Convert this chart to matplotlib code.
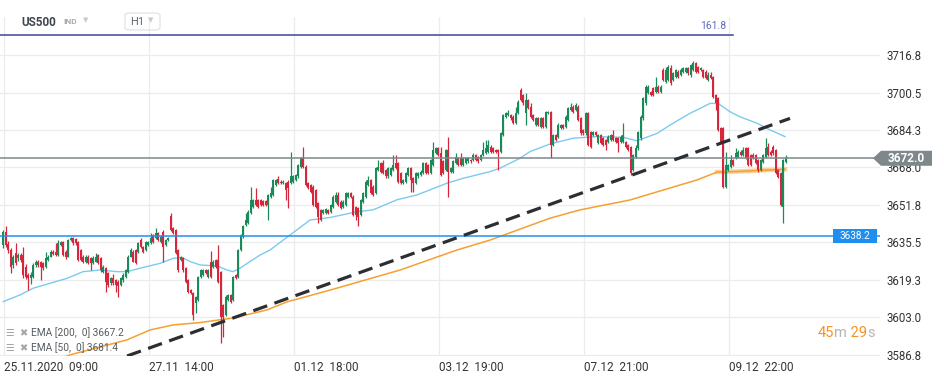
import matplotlib
matplotlib.use('Agg')
import matplotlib.pyplot as plt
import matplotlib.transforms as mtransforms
from matplotlib.patches import Polygon, Rectangle, FancyBboxPatch
import numpy as np

plt.rcParams['font.family'] = ['Roboto', 'DejaVu Sans']

# US500 H1 candles, 25.11.2020 09:00 -> 09.12.2020
opens = [
    3634.4, 3640.2, 3635, 3632.2, 3625.7, 3630.8, 3628.6, 3630, 3630, 3625,
    3621.4, 3619.9, 3620.6, 3625.7, 3627.2, 3627.2, 3626.4, 3625, 3627.9, 3629.3,
    3631.5, 3631.5, 3630, 3634.4, 3635.8, 3631.5, 3629.3, 3636.5, 3637.2, 3636.8,
    3635.8, 3632.2, 3629.3, 3627.2, 3629.3, 3628.6, 3626.4, 3627.2, 3630, 3628.6,
    3622.8, 3624.3, 3622, 3617.7, 3619.9, 3619.2, 3618.5, 3617, 3619.2, 3620.6,
    3622.8, 3629.3, 3631.5, 3632.2, 3631.5, 3636.5, 3633.6, 3632.2, 3634.4, 3635.1,
    3638.7, 3637.3, 3639.4, 3635.8, 3640.2, 3634.4, 3636.5, 3647, 3641.6, 3640.9,
    3632.2, 3627.9, 3628.6, 3624.3, 3619.2, 3614.9, 3613.4, 3609.1, 3610.5, 3620.6,
    3621.4, 3623.5, 3620.6, 3627.2, 3625, 3627.9, 3627.9, 3622.8, 3608.3, 3604,
    3610.5, 3612.7, 3610.5, 3621.4, 3620.6,
    3632.2, 3638, 3643.1, 3643.8, 3648.2, 3651, 3653.9, 3653.9, 3653.9, 3653.6,
    3653.6, 3651.8, 3655.4, 3656.1, 3660.4, 3662.9, 3661.9, 3661.2, 3661.2, 3661.9,
    3661.2, 3661.9, 3662.6, 3664.1, 3668.4, 3672, 3668.4, 3661.2, 3660.4, 3659.7,
    3658.3, 3652.5, 3649.6, 3648.2, 3648.4, 3649.6, 3648.9, 3651, 3653.2, 3656.1,
    3653.2, 3651, 3651.8, 3655.4, 3656.8, 3655.4, 3651, 3650.3, 3647.4, 3653.2,
    3655.4, 3660.4, 3662.6, 3659.7, 3656.8, 3666.9, 3669.8, 3669.8, 3666.9, 3664.1,
    3664.8, 3666.9, 3669.8, 3669.8, 3665.5, 3661.2, 3661.9, 3664.8, 3667.7, 3663.3,
    3661.2, 3664.1, 3664.8, 3665.5, 3669.8, 3669.1, 3665.5, 3669.1, 3674.2, 3676.3,
    3674.2, 3670.6, 3666.9, 3675.6, 3666.2, 3666.2, 3669.8, 3672, 3672, 3669.1,
    3669.8, 3670.6, 3671.3, 3671.3, 3673.5, 3672.7,
    3671.3, 3673.4, 3674.2, 3674.9, 3677.1, 3676.3, 3675.6, 3675.6, 3674.9, 3682.1,
    3690.1, 3690.8, 3690.8, 3690.1, 3687.2, 3691.5, 3701.6, 3699.5, 3691.5, 3697.3,
    3694.4, 3690.8, 3686.4, 3689.3, 3685.7, 3689.3, 3685.7, 3691.5, 3692.2, 3677.8,
    3682.1, 3681.4, 3685, 3686.4, 3685.7, 3688.6, 3693, 3694.4, 3693, 3694.4,
    3689.3, 3684.3, 3682.8, 3691.5, 3683.5, 3682.1, 3683.5, 3678.5, 3682.1, 3680.7,
    3679.9, 3679.2, 3679.9, 3682.1, 3680.7, 3680.7, 3679.2, 3679.2, 3679.2, 3677.8,
    3677, 3666.9, 3672.7, 3676.3, 3680.6, 3689.3, 3695.8, 3700.2, 3700.9, 3702.3,
    3700.9, 3703.1, 3700.9, 3710.3, 3705.2, 3706, 3711, 3706, 3707.4, 3709.6,
    3708.1, 3709.6, 3709.6, 3711, 3708.1, 3710.3, 3713.2, 3711.7, 3710.3, 3710.3,
    3709.6, 3706, 3708.1, 3707.4, 3699.4, 3698, 3685, 3685, 3659.7, 3666.9,
    3668.4, 3671.2, 3672, 3672.7, 3674.9, 3673.4, 3676.3, 3676.3, 3673.4, 3673.4,
    3673.4, 3671.2, 3666.9, 3670.5, 3672.7, 3677, 3674.9, 3677, 3675.6, 3666.9,
    3665.5, 3651, 3670.5,
]
highs = [
    3641, 3642.6, 3636, 3633, 3630, 3635.1, 3631, 3631, 3633.6, 3626,
    3622, 3622.5, 3626.5, 3627.9, 3628, 3627.5, 3627, 3631.5, 3630, 3632,
    3632, 3635.1, 3636.5, 3636.3, 3636.3, 3632, 3637, 3637.8, 3637.8, 3637.3,
    3636.3, 3632.8, 3630, 3630, 3630, 3629, 3629.5, 3630.8, 3630.5, 3629,
    3625.5, 3625, 3622.5, 3620.5, 3621.8, 3619.8, 3619, 3620.5, 3622, 3624,
    3630, 3632.9, 3632, 3632.8, 3635.6, 3637.3, 3634, 3636.3, 3636.3, 3639.4,
    3639.2, 3641.6, 3640, 3638.5, 3640.8, 3637, 3637.7, 3648.4, 3642, 3641.4,
    3632.7, 3629.8, 3629, 3624.8, 3619.7, 3615.4, 3613.9, 3612.4, 3621.1, 3624,
    3624, 3624, 3624, 3631.9, 3627.7, 3628.4, 3634.4, 3623.3, 3608.8, 3612.5,
    3613.2, 3613.2, 3621.1, 3621.9, 3632.7,
    3639.2, 3642.9, 3648.2, 3649.4, 3659.7, 3654.4, 3659, 3654.4, 3654.4, 3654.1,
    3654.1, 3656.6, 3659.7, 3663.1, 3663.1, 3664.1, 3662.4, 3662.4, 3661.7, 3662.4,
    3674.9, 3664.6, 3665.3, 3669.6, 3672.5, 3677.1, 3668.9, 3661.7, 3660.9, 3660.2,
    3658.8, 3653, 3650.1, 3650.1, 3650.4, 3650.1, 3652.3, 3655.9, 3657.5, 3657.5,
    3653.7, 3653.7, 3657.3, 3657.3, 3657.3, 3655.9, 3651.5, 3650.8, 3654.4, 3657.3,
    3662.4, 3664.1, 3663.1, 3660.2, 3668.2, 3671.3, 3670.3, 3671.3, 3667.4, 3668.2,
    3668.2, 3673.5, 3673.5, 3670.3, 3666, 3663.1, 3666, 3668.2, 3668.2, 3663.8,
    3666, 3666, 3666.7, 3670.3, 3670.3, 3669.6, 3671.8, 3679.2, 3676.8, 3676.8,
    3677.1, 3671.1, 3676.1, 3681.4, 3668.2, 3671.1, 3674.2, 3672.5, 3674.2, 3672.5,
    3672.5, 3672.5, 3671.8, 3674.2, 3674, 3673.2,
    3673.9, 3679.2, 3679.9, 3679.9, 3677.8, 3676.8, 3676.1, 3676.1, 3683.3, 3691.3,
    3692, 3693, 3691.3, 3690.6, 3694.4, 3697.1, 3702.3, 3700, 3700.2, 3697.8,
    3695.8, 3691.3, 3689.8, 3689.8, 3689.8, 3689.8, 3692.7, 3692.7, 3692.7, 3682.6,
    3682.6, 3687.2, 3686.9, 3686.9, 3690.6, 3694.2, 3695.8, 3694.9, 3695.8, 3694.9,
    3689.8, 3684.8, 3692.2, 3692, 3684, 3684, 3684, 3682.6, 3682.6, 3681.2,
    3680.4, 3681.9, 3682.6, 3684.3, 3681.2, 3681.2, 3682.1, 3687.2, 3679.7, 3678.3,
    3677.5, 3673.9, 3677.8, 3684, 3690.6, 3698.5, 3703.6, 3703.6, 3701.4, 3703.1,
    3707.4, 3703.6, 3703.6, 3711, 3711.7, 3712.5, 3712.5, 3709.3, 3710.8, 3710.1,
    3711, 3711.5, 3711.5, 3711.5, 3713, 3714, 3713.7, 3712.2, 3711.5, 3710.8,
    3710.1, 3709.6, 3709.6, 3707.9, 3699.9, 3698.5, 3685.5, 3685.5, 3674.9, 3669.6,
    3673.4, 3671.7, 3676.3, 3675.4, 3675.4, 3677, 3676.8, 3676.8, 3673.9, 3674.1,
    3673.9, 3671.7, 3671.7, 3673.9, 3680.6, 3678.5, 3675.4, 3677.8, 3676.1, 3667.4,
    3666, 3671.7, 3673.4,
]
lows = [
    3633, 3633.5, 3631, 3622.2, 3624.5, 3625.5, 3627.5, 3627, 3620, 3619.5,
    3614.9, 3617.5, 3620, 3625, 3625, 3619.2, 3623.5, 3624.5, 3627.5, 3629,
    3630, 3629.5, 3629.5, 3634, 3629.5, 3628.5, 3629, 3636, 3634.5, 3634.5,
    3627.5, 3627.3, 3626.5, 3626.5, 3626, 3623.5, 3626, 3626.8, 3626, 3622.5,
    3622, 3614.1, 3616, 3617, 3617, 3614.1, 3612, 3616.5, 3618.5, 3620,
    3622.3, 3629, 3626.8, 3626, 3631, 3633, 3631, 3631.8, 3634, 3634.8,
    3635.3, 3637, 3636, 3635.3, 3627.2, 3634, 3636, 3640.4, 3639, 3630.3,
    3622.8, 3627.4, 3622.8, 3618, 3613.6, 3612.9, 3601.8, 3605, 3610, 3620.1,
    3621, 3621.6, 3620.1, 3620.1, 3624.5, 3624.5, 3618, 3591.8, 3594.5, 3603.5,
    3610, 3609.3, 3610, 3619.4, 3620.1,
    3631.7, 3637.5, 3642.6, 3643.3, 3647.7, 3650.5, 3651.3, 3650.5, 3651.3, 3651.3,
    3651.3, 3645.3, 3654.9, 3655.6, 3659.9, 3660.7, 3660.7, 3660.7, 3653.9, 3650.3,
    3660.7, 3661.4, 3662.1, 3663.6, 3667.9, 3667.9, 3659.9, 3658.5, 3657, 3651.3,
    3650.5, 3643.8, 3644.8, 3647.7, 3647.9, 3647.7, 3648.4, 3650.5, 3652.7, 3651.3,
    3649.8, 3650.5, 3651.3, 3654.9, 3654.9, 3646.9, 3645.3, 3642.4, 3646.9, 3652.7,
    3654.9, 3659.9, 3656.3, 3655.6, 3656.3, 3666.4, 3665.7, 3665, 3663.6, 3663.6,
    3664.3, 3666.4, 3667.2, 3661.4, 3660.7, 3660.7, 3661.4, 3664.3, 3657.5, 3657.5,
    3660.7, 3663.6, 3664.3, 3665, 3665, 3665, 3665, 3668.6, 3673.7, 3673,
    3664.3, 3665, 3666.4, 3655.4, 3665.7, 3665.7, 3669.3, 3668.6, 3668.6, 3668.6,
    3669.3, 3670.1, 3670.1, 3670.8, 3670.8, 3670.1,
    3670.8, 3672.9, 3673.7, 3674.4, 3674.4, 3674.4, 3674.4, 3666.9, 3674.4, 3681.6,
    3689.6, 3690.3, 3688.8, 3686.7, 3686.7, 3691, 3696.8, 3695.3, 3686.4, 3693.2,
    3689.6, 3688.1, 3685.9, 3685.9, 3685.2, 3685.2, 3685.2, 3691, 3672, 3677.3,
    3679.4, 3680.9, 3684.5, 3684.5, 3685.2, 3688.1, 3692.5, 3691.7, 3692.5, 3688.1,
    3682.3, 3682.3, 3682.3, 3677.3, 3676.6, 3681.6, 3681.6, 3678, 3678, 3677.3,
    3675.6, 3678.7, 3679.4, 3679.4, 3678.7, 3674.9, 3678.7, 3678.7, 3676.6, 3675.1,
    3664.8, 3666.4, 3672.2, 3675.8, 3680.1, 3688.8, 3695.3, 3699.7, 3698.9, 3698.9,
    3700.4, 3700.4, 3700.4, 3705.5, 3704.7, 3705.5, 3704, 3705.5, 3706.9, 3706.9,
    3707.6, 3709.1, 3709.1, 3708.3, 3707.4, 3709.8, 3709.1, 3709.1, 3709.8, 3706.9,
    3706.2, 3705.5, 3706.2, 3698.2, 3692.9, 3683.8, 3678.7, 3659.2, 3659.2, 3666.4,
    3667.9, 3668.6, 3671.5, 3672.2, 3672.9, 3672.9, 3671.5, 3668.6, 3668.6, 3671.5,
    3669.3, 3666.2, 3666.4, 3670, 3672.2, 3672.9, 3672.9, 3673.6, 3665, 3663.5,
    3651.2, 3643.8, 3670,
]
closes = [
    3640.2, 3634.4, 3632.2, 3625, 3629.3, 3626.4, 3630, 3627.9, 3621.4, 3620.6,
    3619.9, 3621.4, 3625.7, 3627.2, 3625.7, 3625, 3624.3, 3628.6, 3629.3, 3631.5,
    3630.5, 3630, 3635.1, 3635.8, 3630, 3629.3, 3636.5, 3637.2, 3635.1, 3635.1,
    3627.9, 3627.9, 3627.2, 3629.3, 3626.4, 3626.4, 3628.6, 3629.3, 3626.4, 3623.5,
    3625, 3618.5, 3617, 3619.9, 3617.7, 3617, 3616.6, 3619.9, 3621.4, 3623.5,
    3629.3, 3632.2, 3627.2, 3626.4, 3635.1, 3633.6, 3631.5, 3635.8, 3635.8, 3637.3,
    3635.8, 3639.4, 3636.5, 3638, 3633.6, 3636.5, 3637.2, 3640.9, 3639.4, 3630.8,
    3623.5, 3629.3, 3623.5, 3618.5, 3614.1, 3613.4, 3604, 3611.9, 3620.6, 3623.5,
    3623.5, 3622.1, 3623.5, 3620.6, 3627.2, 3625, 3618.5, 3603.3, 3603.3, 3612,
    3612.7, 3609.8, 3620.6, 3619.9, 3632.2,
    3638.7, 3642.4, 3645.3, 3648.9, 3653.9, 3653.9, 3651.8, 3651, 3651.8, 3651.8,
    3651.8, 3656.1, 3656.8, 3662.6, 3662.6, 3661.2, 3661.2, 3661.9, 3658.3, 3659,
    3664.1, 3664.1, 3664.8, 3669.1, 3672, 3668.4, 3660.4, 3659, 3657.5, 3651.8,
    3651, 3646.7, 3645.3, 3649.6, 3649.9, 3648.2, 3651.8, 3655.4, 3656.1, 3651.8,
    3650.3, 3653.2, 3656.8, 3656.8, 3655.4, 3647.4, 3647.4, 3646.7, 3653.9, 3656.8,
    3661.9, 3662.6, 3656.8, 3656.1, 3667.7, 3668.4, 3666.2, 3665.5, 3664.1, 3667.7,
    3667.7, 3669.1, 3667.7, 3661.9, 3661.2, 3662.6, 3665.5, 3667.7, 3662.6, 3661.2,
    3665.5, 3665.5, 3666.2, 3669.8, 3665.5, 3665.5, 3671.3, 3675.6, 3676.3, 3673.5,
    3664.8, 3665.5, 3675.6, 3666.2, 3667.7, 3670.6, 3672.7, 3669.1, 3669.1, 3672,
    3672, 3672, 3670.6, 3673.5, 3671.3, 3670.6,
    3673.4, 3675.6, 3676.3, 3677.8, 3674.9, 3674.9, 3674.9, 3674.9, 3682.8, 3690.8,
    3691.5, 3691.5, 3689.3, 3687.2, 3691.5, 3696.6, 3697.3, 3695.8, 3697.3, 3693.7,
    3690.1, 3688.6, 3689.3, 3686.4, 3689.3, 3685.7, 3692.2, 3692.2, 3677.8, 3682.1,
    3679.9, 3686.4, 3686.4, 3685, 3690.1, 3693.7, 3694.4, 3692.2, 3695.1, 3688.6,
    3682.8, 3682.8, 3691.5, 3677.8, 3677.1, 3683.5, 3682.1, 3682.1, 3678.5, 3677.8,
    3677.8, 3681.4, 3682.1, 3679.9, 3679.2, 3678.5, 3681.4, 3682.1, 3677.1, 3675.6,
    3665.5, 3673.4, 3676.3, 3683.5, 3690.1, 3698, 3703.1, 3703.1, 3699.4, 3699.4,
    3703.1, 3700.9, 3703.1, 3706, 3710.3, 3711.7, 3704.5, 3708.8, 3710.3, 3707.4,
    3710.3, 3711, 3711, 3708.8, 3712.5, 3713.2, 3709.6, 3709.6, 3711, 3707.4,
    3706.7, 3708.1, 3706.7, 3698.7, 3695.8, 3684.3, 3679.2, 3659.7, 3669.1, 3669.1,
    3671.2, 3669.1, 3674.1, 3674.9, 3673.4, 3675.6, 3672, 3669.1, 3669.1, 3672,
    3669.8, 3666.9, 3671.2, 3673.4, 3676.3, 3673.4, 3673.4, 3674.1, 3665.5, 3664,
    3651.7, 3671.2, 3672,
]

# EMA lines, sampled along the chart (candle index, value)
ema50_idx = [0, 6.7, 11.9, 25.5, 31.9, 38.7, 45.5, 49.5, 54.7, 62.7, 68, 71.5, 74.7,
             78.7, 85.5, 89.5, 91.9, 94.7, 98.7, 102.7, 106.7, 114.7, 122.7, 130.7,
             141.5, 147.9, 157.5, 165.5, 177.5, 183.9, 194.7, 198.7, 206.7, 210.7,
             218.7, 227.9, 237.5, 247.9, 253.5, 261.5, 267.9, 274.7, 282.7, 285.9,
             290.7, 294.7, 301.5, 306.7, 312.7]
ema50_val = [3609.8, 3612.7, 3615.6, 3619.9, 3622.8, 3623.5, 3622.8, 3622.8, 3624.3,
             3626.4, 3628.6, 3629.0, 3627.2, 3625.7, 3625.3, 3623.5, 3622.8, 3624.3,
             3627.2, 3630.0, 3632.2, 3638.7, 3645.2, 3646.3, 3648.8, 3649.6, 3654.0,
             3656.1, 3661.2, 3663.3, 3666.2, 3667.7, 3672.0, 3674.9, 3678.2, 3680.7,
             3681.4, 3681.1, 3679.6, 3682.8, 3687.2, 3691.5, 3695.8, 3695.8, 3692.2,
             3690.0, 3687.2, 3684.3, 3681.4]
ema200_idx = [22.7, 26.7, 49.5, 58.7, 68, 78.7, 91.9, 105.5, 113.5, 130.7, 158.7,
              181.5, 194.7, 218.7, 230.7, 250.7, 263.9, 277.5, 285.5, 294.7, 304, 312.7]
ema200_val = [3585.0, 3586.7, 3593.2, 3597.5, 3599.7, 3600.7, 3602.7, 3606.2, 3609.7,
              3614.8, 3623.5, 3632.2, 3636.5, 3646.0, 3649.6, 3653.9, 3658.2, 3662.6,
              3666.0, 3666.3, 3666.8, 3667.2]

# dashed trend line (two anchor points)
trend_idx = [49.5, 314.7]
trend_val = [3586.2, 3689.3]

fib_level = 3725.5      # 161.8 level
last_price = 3672.0
support_level = 3638.2

ytick_vals = [3586.75, 3603.0, 3619.25, 3635.5, 3651.75, 3668.0, 3684.25, 3700.5, 3716.75]
ytick_labels = ['3586.8', '3603.0', '3619.3', '3635.5', '3651.8', '3668.0', '3684.3', '3700.5', '3716.8']
xtick_idx = [0.3, 58.3, 116.3, 174.3, 232.3, 290.3]
xtick_labels = ['25.11.2020  09:00', '27.11  14:00', '01.12  18:00',
                '03.12  19:00', '07.12  21:00', '09.12  22:00']

W, H = 945, 381
UP, DOWN = '#1a8a5b', '#d5263c'

fig = plt.figure(figsize=(W / 100, H / 100), dpi=100)
ax = fig.add_axes([0, 25 / H, 880 / W, 339 / H])
ax.set_xlim(-1.32, 350.7)
ax.set_ylim(3586.2, 3733.3)

for s in ax.spines.values():
    s.set_visible(False)
ax.grid(True, color='#ececec', lw=0.9)
ax.set_axisbelow(True)

ax.yaxis.tick_right()
ax.set_yticks(ytick_vals)
ax.set_yticklabels(ytick_labels)
ax.set_xticks(xtick_idx)
ax.set_xticklabels(xtick_labels)
ax.tick_params(axis='y', length=0, pad=4.5, labelsize=8.3, labelcolor='#333333')
ax.tick_params(axis='x', length=0, pad=3.5, labelsize=8.5, labelcolor='#333333')
for lbl in ax.get_xticklabels():
    lbl.set_ha('left')

# candles
o = np.array(opens)
h = np.array(highs)
l = np.array(lows)
c = np.array(closes)
idx = np.arange(len(c))
cols = np.where(c >= o, UP, DOWN)
ax.vlines(idx, l, h, colors=cols, lw=0.9, zorder=3)
body = np.maximum(np.abs(c - o), 0.4)
ax.bar(idx, body, bottom=np.minimum(o, c), width=0.78, color=cols, lw=0, zorder=3)

# moving averages
ax.plot(ema200_idx[18:], ema200_val[18:], color='#fbd09a', lw=3.2, zorder=2)
ax.plot(ema200_idx, ema200_val, color='#f5a031', lw=1.1, zorder=2.1)
ax.plot(ema50_idx, ema50_val, color='#7ccaf0', lw=1.0, zorder=2.1)

# trend line
ax.plot(trend_idx, trend_val, color='#2b2f33', lw=2.3, ls=(0, (4.6, 2.4)), zorder=4)

# horizontal levels
ax.axhline(last_price, color='#7d878c', lw=1.1, zorder=3.5)
ax.axhline(support_level, color='#2190ee', lw=1.1, zorder=3.5)
ax.axhline(fib_level, xmin=0, xmax=733 / 880, color='#3a4798', lw=1.1, zorder=3.5)
ax.annotate('161.8', xy=(726 / 880, fib_level), xycoords=('axes fraction', 'data'),
            xytext=(0, 3), textcoords='offset points', ha='right', va='bottom',
            fontsize=7.5, color='#5c6bc0')

# price label boxes
bt = mtransforms.blended_transform_factory(ax.transAxes, ax.transData)
px = 1 / 2.305   # price per pixel
pts = [(873 / 880, last_price), (881 / 880, last_price + 7.5 * px),
       (932 / 880, last_price + 7.5 * px), (932 / 880, last_price - 7.5 * px),
       (881 / 880, last_price - 7.5 * px)]
ax.add_patch(Polygon(pts, closed=True, transform=bt, fc='#7d878c', ec='none',
                     clip_on=False, zorder=10))
ax.text(906 / 880, last_price, '%.1f' % last_price, transform=bt, ha='center',
        va='center', fontsize=8.5, fontweight='bold', color='white', zorder=11,
        clip_on=False)

ax.add_patch(Rectangle((833 / 880, support_level - 7 * px), 44 / 880, 14 * px,
                       transform=bt, fc='#1e8ff0', ec='none', zorder=10))
ax.text(855 / 880, support_level, '%.1f' % support_level, transform=bt, ha='center',
        va='center', fontsize=7.2, color='white', zorder=11)

# header
def fx(x):
    return x / W


def fy(y):
    return 1 - y / H


fig.text(fx(21), fy(22), 'US500', fontsize=8.5, fontweight='bold', color='#3e464e', va='center')
fig.text(fx(63), fy(22), 'IND', fontsize=6, fontweight='bold', color='#a6abb0', va='center')
fig.text(fx(83), fy(21), '\u25bc', fontsize=5, color='#c6cacd', va='center')
fig.add_artist(FancyBboxPatch((fx(125), fy(30)), 35 / W, 17 / H,
                              boxstyle='round,pad=0,rounding_size=0.006',
                              transform=fig.transFigure, fc='none', ec='#dcdfe2', lw=0.8))
fig.text(fx(130), fy(22), 'H1', fontsize=8, color='#5f666d', va='center')
fig.text(fx(148), fy(21), '\u25bc', fontsize=5, color='#c6cacd', va='center')

# indicator legend (bottom left)
for yy, txt in [(333, 'EMA [200,  0] 3667.2'), (348, 'EMA [50,  0] 3681.4')]:
    fig.text(fx(5), fy(yy), '\u2630', fontsize=7, color='#a0a5aa', va='center',
             family=['DejaVu Sans'])
    fig.text(fx(19), fy(yy), '\u2716', fontsize=7, color='#a0a5aa', va='center',
             family=['DejaVu Sans'])
    fig.text(fx(31), fy(yy), txt, fontsize=7.3, color='#555b60', va='center')

# candle timer
orange, grey = '#f7931e', '#b5b5b5'
t = fig.text(fx(818), fy(333), '45', fontsize=10.5, color=orange, va='center')
for s, col in [('m', grey), (' 29', orange), ('s', grey)]:
    t = ax.annotate(s, xy=(1, 0), xycoords=t, ha='left', va='bottom',
                    fontsize=10.5, color=col)

plt.savefig('out.png', dpi=100)
